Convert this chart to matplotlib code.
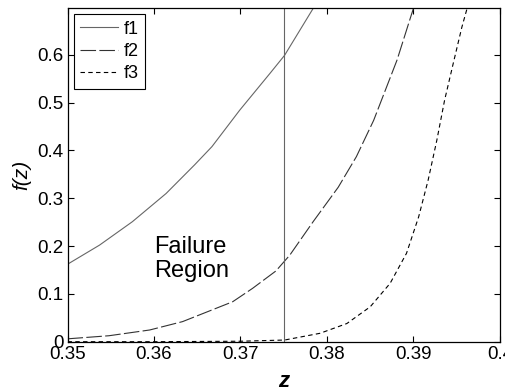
import numpy as np
import matplotlib
matplotlib.use("Agg")
import matplotlib.pyplot as plt

plt.rcParams['font.family'] = ['Liberation Sans', 'DejaVu Sans']

# values
z1 = [0.35, 0.3537, 0.3575, 0.3614, 0.3647, 0.3667, 0.3699, 0.3734, 0.3751, 0.3784]
f1 = [0.162, 0.202, 0.251, 0.310, 0.370, 0.408, 0.484, 0.561, 0.599, 0.697]

z2 = [0.35, 0.3548, 0.3595, 0.3633, 0.3691, 0.3714, 0.3741, 0.3757, 0.3784,
      0.3813, 0.3834, 0.3854, 0.3869, 0.3881, 0.3898, 0.3900]
f2 = [0.006, 0.0125, 0.0245, 0.042, 0.0836, 0.1116, 0.148, 0.181, 0.251,
      0.323, 0.387, 0.463, 0.533, 0.589, 0.686, 0.697]

z3 = [0.35, 0.36, 0.37, 0.3751, 0.3792, 0.3823, 0.3850, 0.3873, 0.3892,
      0.3906, 0.3917, 0.3927, 0.3936, 0.3946, 0.3956, 0.3962]
f3 = [0.0, 0.0, 0.001, 0.0035, 0.0176, 0.038, 0.073, 0.122, 0.185,
      0.261, 0.338, 0.421, 0.505, 0.582, 0.658, 0.697]

z_fail = 0.375

fig = plt.figure(figsize=(5.06, 3.92), dpi=100)
ax = fig.add_axes([0.1334, 0.1283, 0.988 - 0.1334, 0.9796 - 0.1283])

ax.plot(z1, f1, color='#666666', lw=0.8, label='f1')
ax.plot(z2, f2, color='#333333', lw=0.8, dashes=(14, 3), label='f2')
ax.plot(z3, f3, color='black', lw=0.8, dashes=(4, 3), label='f3')
ax.axvline(z_fail, color='#666666', lw=0.8)

ax.text(0.3600, 0.198, 'Failure', fontsize=17, va='center', ha='left')
ax.text(0.3600, 0.148, 'Region', fontsize=17, va='center', ha='left')

ax.set_xlim(0.35, 0.40)
ax.set_ylim(0, 0.698)
ax.set_xticks([0.35, 0.36, 0.37, 0.38, 0.39, 0.40])
ax.set_xticklabels(['0.35', '0.36', '0.37', '0.38', '0.39', '0.4'])
ax.set_yticks([0, 0.1, 0.2, 0.3, 0.4, 0.5, 0.6])
ax.set_yticklabels(['0', '0.1', '0.2', '0.3', '0.4', '0.5', '0.6'])
ax.tick_params(direction='in', top=True, right=True, length=4, width=0.8,
               labelsize=13.5, pad=3)
for s in ax.spines.values():
    s.set_linewidth(0.9)

ax.set_xlabel('z', fontsize=16, fontstyle='italic', fontweight='bold', labelpad=6)
ax.set_ylabel('f(z)', fontsize=15, fontstyle='italic', labelpad=4)

leg = ax.legend(loc='upper left', fontsize=13, fancybox=False, framealpha=1,
                edgecolor='black', handlelength=2.1, handletextpad=0.3,
                borderaxespad=0.35, borderpad=0.35, labelspacing=0.3)
leg.get_frame().set_linewidth(0.8)

fig.savefig('out.png', dpi=100)
